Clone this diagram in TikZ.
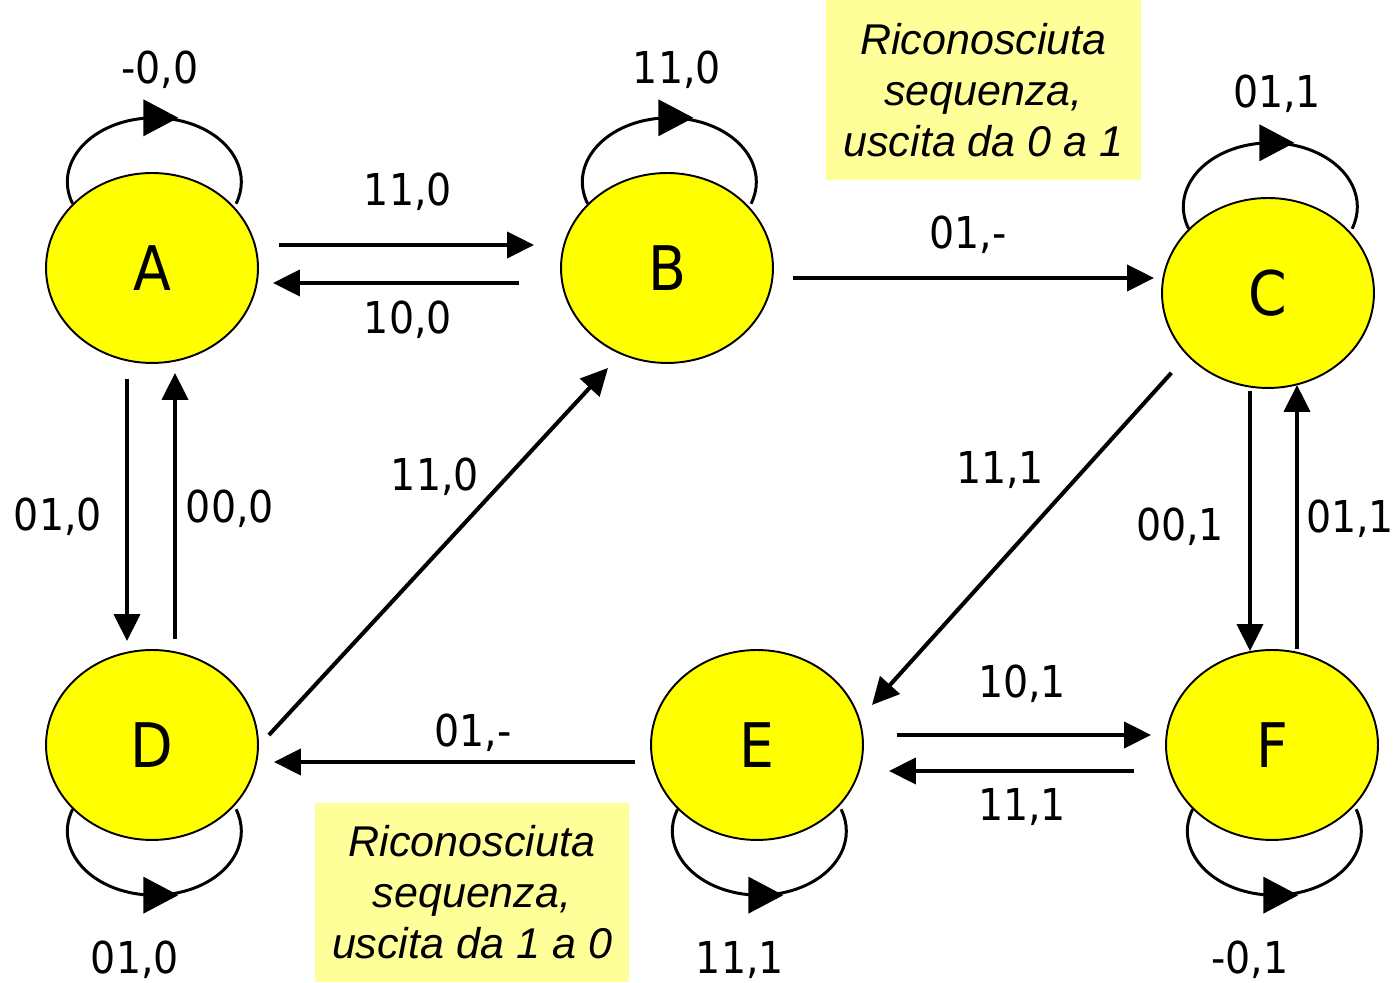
\documentclass[tikz,border=0pt]{standalone}
\usepackage{fontspec}
\setmainfont{DejaVu Sans}[FakeStretch=0.9]
\newfontfamily\notefont{Liberation Sans}
\usetikzlibrary{shapes.geometric,arrows.meta,calc,decorations.markings}
\definecolor{notecol}{RGB}{255,255,153}
\definecolor{statecol}{RGB}{255,255,0}
\tikzset{
  state/.style={ellipse,draw,line width=1.1pt,fill=statecol,minimum width=4.24cm,minimum height=3.8cm,inner sep=0pt,font=\fontsize{35}{40}\selectfont},
  lbl/.style={inner sep=0pt,anchor=base,font=\fontsize{25}{30}\selectfont},
  arr/.style={line width=2.3pt,-{Triangle[length=0.54cm,width=0.52cm]}},
  selfloop/.style={line width=1.7pt,postaction={decorate},
    decoration={markings,mark=at position 0.5 with {\fill (-0.22cm,0.37cm) -- (0.48cm,0) -- (-0.22cm,-0.37cm) -- cycle;}}},
  note/.style={fill=notecol,minimum width=6.3cm,minimum height=3.6cm,align=center,
    font=\notefont\itshape\fontsize{24.5}{29}\selectfont}
}
\begin{document}
\begin{tikzpicture}[x=0.02cm,y=0.02cm]
\useasboundingbox (0,0) rectangle (1400,983);
% notes
\node[note] (n1) at (983.5,893) {Riconosciuta\\sequenza,\\uscita da 0 a 1};
\node[note] (n2) at (472,90.5) {Riconosciuta\\sequenza,\\uscita da 1 a 0};
% states
\node[state] (A) at (152,715) {A};
\node[state] (B) at (667,715) {B};
\node[state] (C) at (1268,690) {C};
\node[state] (D) at (152,238) {D};
\node[state] (E) at (757,238) {E};
\node[state] (F) at (1272,238) {F};
% self loops
\draw[selfloop] (A.141) arc[start angle=200,end angle=-20,x radius=1.74cm,y radius=1.28cm];
\draw[selfloop] (B.141) arc[start angle=200,end angle=-20,x radius=1.74cm,y radius=1.28cm];
\draw[selfloop] (C.141) arc[start angle=200,end angle=-20,x radius=1.74cm,y radius=1.28cm];
\draw[selfloop] (D.219) arc[start angle=160,end angle=380,x radius=1.74cm,y radius=1.28cm];
\draw[selfloop] (E.219) arc[start angle=160,end angle=380,x radius=1.74cm,y radius=1.28cm];
\draw[selfloop] (F.219) arc[start angle=160,end angle=380,x radius=1.74cm,y radius=1.28cm];
\node[lbl] (lAA) at (160,899) {-0,0};
\node[lbl] (lBB) at (677,899) {11,0};
\node[lbl] (lCC) at (1277,875) {01,1};
\node[lbl] (lDD) at (135,9) {01,0};
\node[lbl] (lEE) at (740,9) {11,1};
\node[lbl] (lFF) at (1250,9) {-0,1};
% transitions
\draw[arr] ($(A.east)+(20,23)$) -- ($(B.west)+(-26,23)$);
\node[lbl] (lAB) at (408,777) {11,0};
\draw[arr] ($(B.west)+(-41,-15)$) -- ($(A.east)+(14,-15)$);
\node[lbl] (lBA) at (408,649) {10,0};
\draw[arr] ($(B.east)+(19,-10)$) -- ($(C.west)+(-7,15)$);
\node[lbl] (lBC) at (968,734) {01,-};
\draw[arr] ($(A.south)+(-25,-15)$) -- ($(D.north)+(-25,8)$);
\node[lbl] (lAD) at (58,452) {01,0};
\draw[arr] ($(D.north)+(23,10)$) -- ($(A.south)+(23,-9)$);
\node[lbl] (lDA) at (230,460) {00,0};
\draw[arr] ($(D.east)+(10,10)$) -- ($(B.south)+(-59,-4)$);
\node[lbl] (lDB) at (435,492) {11,0};
\draw[arr] ($(C.south west)+(-21,-12)$) -- ($(E.east)+(8,40)$);
\node[lbl] (lCE) at (1000,499) {11,1};
\draw[arr] ($(C.south)+(-18,-2)$) -- ($(F.north)+(-22,-2)$);
\node[lbl] (lCF) at (1180,442) {00,1};
\draw[arr] ($(F.north)+(25,0)$) -- ($(C.south)+(29,4)$);
\node[lbl] (lFC) at (1350,450) {01,1};
\draw[arr] ($(E.east)+(33,10)$) -- ($(F.west)+(-14,10)$);
\node[lbl] (lEF) at (1022,285) {10,1};
\draw[arr] ($(F.west)+(-31,-26)$) -- ($(E.east)+(25,-26)$);
\node[lbl] (lFE) at (1022,162) {11,1};
\draw[arr] ($(E.west)+(-15,-17)$) -- ($(D.east)+(15,-17)$);
\node[lbl] (lED) at (473,236) {01,-};
\end{tikzpicture}
\end{document}
